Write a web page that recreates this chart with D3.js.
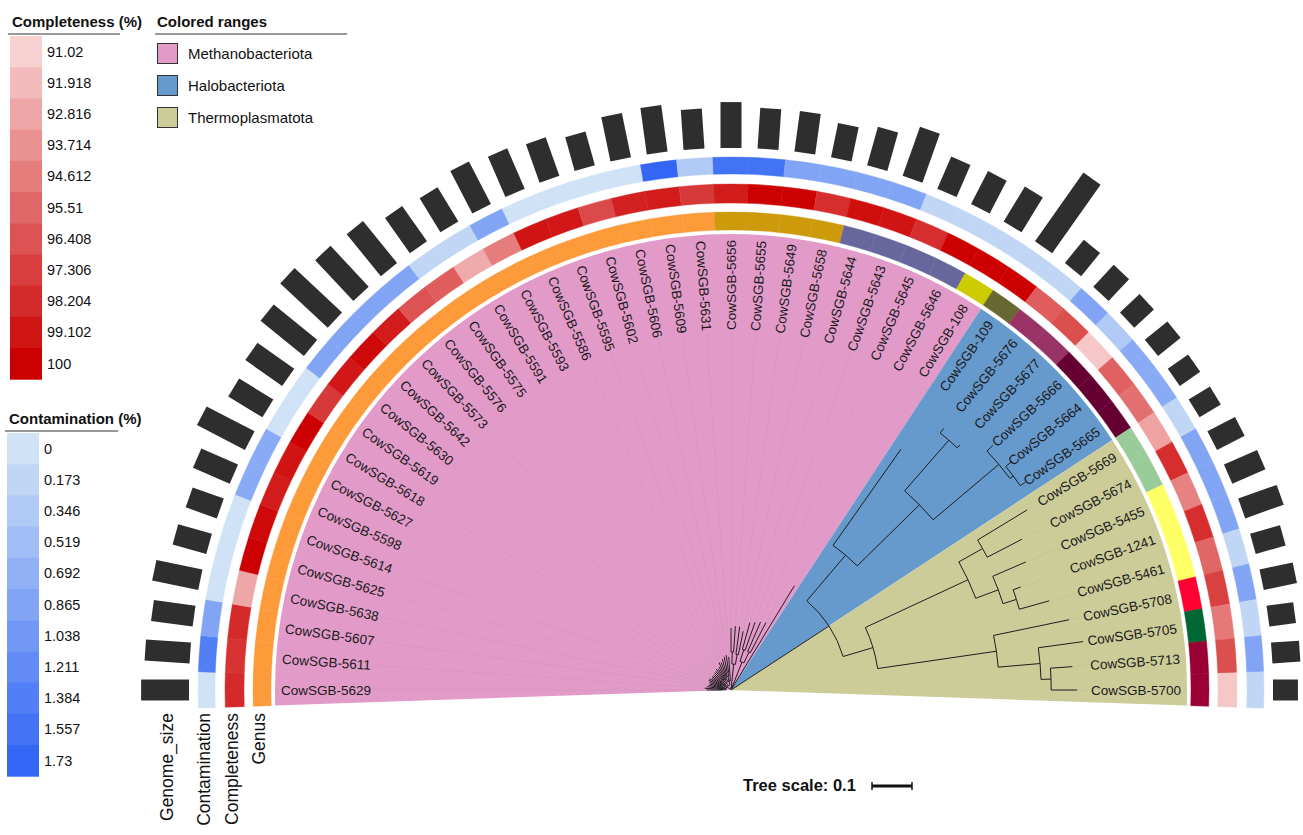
<!DOCTYPE html>
<html>
<head>
<meta charset="utf-8">
<script src="https://cdn.jsdelivr.net/npm/d3@7"></script>
<style>
  body { margin: 0; background: #fff; }
  svg { display: block; }
  text { font-family: "Liberation Sans", Arial, sans-serif; }
</style>
</head>
<body>
<svg id="chart" width="1303" height="835"></svg>
<script>
// ---- leaves, left (180°) to right (0°) ----
const leafNames = [
  "CowSGB-5629","CowSGB-5611","CowSGB-5607","CowSGB-5638","CowSGB-5625","CowSGB-5614",
  "CowSGB-5598","CowSGB-5627","CowSGB-5618","CowSGB-5619","CowSGB-5630","CowSGB-5642",
  "CowSGB-5573","CowSGB-5576","CowSGB-5575","CowSGB-5591","CowSGB-5593","CowSGB-5586",
  "CowSGB-5595","CowSGB-5602","CowSGB-5606","CowSGB-5609","CowSGB-5631","CowSGB-5656",
  "CowSGB-5655","CowSGB-5649","CowSGB-5658","CowSGB-5644","CowSGB-5643","CowSGB-5645",
  "CowSGB-5646","CowSGB-108","CowSGB-109","CowSGB-5676","CowSGB-5677","CowSGB-5666",
  "CowSGB-5664","CowSGB-5665","CowSGB-5669","CowSGB-5674","CowSGB-5455","CowSGB-1241",
  "CowSGB-5461","CowSGB-5708","CowSGB-5705","CowSGB-5713","CowSGB-5700"
];

// genus strip: index into genusColors for each leaf
const genusGroup = [
  0,0,0,0,0,0,0,0,0,0,0,0,0,0,0,0,0,0,0,0,0,0,0,
  1,1,1,1, 2,2,2,2, 3, 4, 5,5, 6,6,6, 7,7, 8,8,8, 9, 10, 11,11
];
const genusColors = ["#fd9b3a","#cc9a0a","#67679d","#cccc00","#676733","#993366",
                     "#660033","#99cc99","#ffff66","#ff0033","#006633","#990033"];

// CheckM completeness (%)
const completeness = [
  98.2, 97.8, 98.2, 92.8, 100, 99.6, 98.8, 99.2, 100, 97.6,
  99.0, 99.6, 98.8, 96.4, 96.0, 92.6, 94.6, 99.2, 99.0, 96.8,
  98.6, 98.8, 97.6, 98.8, 100, 100, 98.0, 99.4, 99.2, 98.0,
  100, 100, 100, 96.0, 96.6, 91.4, 95.8, 95.2, 93.0, 98.0,
  94.4, 98.0, 95.6, 97.2, 94.8, 96.6, 91.4
];

// CheckM contamination (%)
const contamination = [
  0, 1.38, 0.86, 0, 0, 0, 0.78, 0.78, 0, 0,
  0.86, 0.86, 0.86, 0.86, 0.17, 0.17, 0.86, 0, 0, 0,
  0, 1.73, 0.35, 1.55, 1.55, 0.86, 0.86, 0.86, 0.86, 0.17,
  0.17, 0.17, 0.17, 0.17, 0.86, 0.35, 0.78, 0.78, 0.17, 0.86,
  0.86, 0.86, 0.17, 0.86, 0.17, 0.86, 0.17
];

// genome size (Mb)
const genomeSize = [
  1.71, 1.61, 1.50, 1.68, 1.25, 1.18, 1.43, 1.93, 1.43, 1.61,
  2.00, 2.32, 2.00, 1.93, 1.54, 1.43, 1.71, 1.57, 1.46, 1.25,
  1.61, 1.68, 1.43, 1.64, 1.46, 1.46, 1.25, 1.43, 1.86, 1.25,
  1.32, 1.46, 3.00, 1.07, 1.07, 0.96, 1.04, 0.89, 0.89, 1.11,
  1.29, 1.46, 1.11, 1.21, 0.96, 1.00, 0.89
];

// colored ranges (phylum), first and last leaf index of each
const phyla = ["Methanobacteriota", "Halobacteriota", "Thermoplasmatota"];
const phylumColors = ["#e29bc9", "#6699cc", "#cccc99"];
const phylumFirst = [0, 32, 38];
const phylumLast = [31, 37, 46];

// legend ticks
const completenessTicks = [91.02, 91.918, 92.816, 93.714, 94.612, 95.51, 96.408, 97.306, 98.204, 99.102, 100];
const contaminationTicks = [0, 0.173, 0.346, 0.519, 0.692, 0.865, 1.038, 1.211, 1.384, 1.557, 1.73];
const ringTitles = ["Genome_size", "Contamination", "Completeness", "Genus"];

// phylogeny (Newick, substitutions per site)
const methanoNewick =
  "(((CowSGB-5629:0.040,CowSGB-5611:0.045):0.008,(CowSGB-5607:0.042,CowSGB-5638:0.038):0.006," +
  "(CowSGB-5625:0.035,(CowSGB-5614:0.030,CowSGB-5598:0.034):0.006):0.008," +
  "((CowSGB-5627:0.036,CowSGB-5618:0.031):0.007,CowSGB-5619:0.040):0.005," +
  "(CowSGB-5630:0.038,(CowSGB-5642:0.030,CowSGB-5573:0.033):0.008):0.006," +
  "((CowSGB-5576:0.030,CowSGB-5575:0.034):0.010,(CowSGB-5591:0.032,CowSGB-5593:0.036):0.009):0.007," +
  "((CowSGB-5586:0.040,CowSGB-5595:0.038):0.012,(CowSGB-5602:0.045,(CowSGB-5606:0.040,CowSGB-5609:0.043):0.010):0.012,CowSGB-5631:0.060):0.010):0.008," +
  "((CowSGB-5656:0.060,CowSGB-5655:0.065):0.030,(CowSGB-5649:0.070,CowSGB-5658:0.060):0.025):0.060," +
  "((CowSGB-5644:0.070,CowSGB-5643:0.075):0.030,(CowSGB-5645:0.080,CowSGB-5646:0.085):0.030):0.070," +
  "CowSGB-108:0.300):0.005";
const haloNewick =
  "(CowSGB-109:0.295,((CowSGB-5676:0.015,CowSGB-5677:0.010):0.168," +
  "(CowSGB-5666:0.020,(CowSGB-5664:0.018,CowSGB-5665:0.015):0.010):0.215):0.218):0.150";
const thermoNewick =
  "(((CowSGB-5669:0.145,CowSGB-5674:0.098):0.068,(CowSGB-5455:0.090,(CowSGB-1241:0.020,CowSGB-5461:0.078):0.035):0.060):0.283," +
  "(CowSGB-5708:0.193,(CowSGB-5705:0.113,(CowSGB-5713:0.055,CowSGB-5700:0.065):0.025):0.105):0.300):0.078";
const treeNewick = "(" + methanoNewick + ",(" + haloNewick + "," + thermoNewick + "):0.2925);";

// ---- geometry ----
const W = 1303, H = 835, cx = 731, cy = 690;
const rRange = 456, rLabel = 450;
const rGenus = [460, 478], rCompl = [487, 506], rContam = [516, 533], rBar = 542;
const barWidth = 21;

const svg = d3.select("#chart");
svg.append("rect").attr("width", W).attr("height", H).attr("fill", "#fff");

const n = leafNames.length;
const angleOf = d3.scaleLinear().domain([0, n - 1]).range([180, 0]); // degrees, counter-clockwise from east
const half = (180 / (n - 1)) / 2;
const rad = d => d * Math.PI / 180;
const arcGen = d3.arc();
const sector = (r0, r1, a0, a1) =>
  arcGen({innerRadius: r0, outerRadius: r1, startAngle: rad(90 - a0), endAngle: rad(90 - a1)});

const treeScale = d3.scaleLinear().domain([0, 1]).range([0, 400]);
const complColor = d3.scaleLinear().domain([91.02, 100]).range(["#f7d0d0", "#cc0000"]);
const contamColor = d3.scaleLinear().domain([0, 1.73]).range(["#d0e2f5", "#3366f5"]);
const barLen = d3.scaleLinear().domain([0, 3.0]).range([0, 84]);

const gc = svg.append("g").attr("transform", `translate(${cx},${cy})`);

// colored range wedges
phyla.forEach((p, k) => {
  gc.append("path")
    .attr("d", sector(0, rRange, angleOf(phylumFirst[k]) + half, angleOf(phylumLast[k]) - half))
    .attr("fill", phylumColors[k]);
});

// annotation rings
const rings = [
  {r: rGenus, color: i => genusColors[genusGroup[i]]},
  {r: rCompl, color: i => complColor(completeness[i])},
  {r: rContam, color: i => contamColor(contamination[i])}
];
rings.forEach(ring => {
  gc.append("g").selectAll("path").data(d3.range(n)).join("path")
    .attr("d", i => sector(ring.r[0], ring.r[1], angleOf(i) + half, angleOf(i) - half))
    .attr("fill", ring.color)
    .attr("stroke", ring.color)
    .attr("stroke-width", 0.4);
});

// genome size bars
gc.append("g").selectAll("rect").data(d3.range(n)).join("rect")
  .attr("transform", i => `rotate(${-angleOf(i)})`)
  .attr("x", rBar)
  .attr("y", -barWidth / 2)
  .attr("width", i => barLen(genomeSize[i]))
  .attr("height", barWidth)
  .attr("fill", "#2e2e2e");

// ---- tree ----
function parseNewick(s) {
  let i = 0;
  function node() {
    const nd = {name: "", length: 0};
    if (s[i] === "(") {
      nd.children = [];
      i++;
      while (true) {
        nd.children.push(node());
        if (s[i] === ",") { i++; continue; }
        break;
      }
      i++;
    }
    let name = "";
    while (i < s.length && !",():;".includes(s[i])) name += s[i++];
    nd.name = name.trim();
    if (s[i] === ":") {
      i++;
      let num = "";
      while (i < s.length && !",();".includes(s[i])) num += s[i++];
      nd.length = +num;
    }
    return nd;
  }
  return node();
}

const root = d3.hierarchy(parseNewick(treeNewick));
root.eachBefore(d => { d.r = d.parent ? d.parent.r + treeScale(d.data.length) : 0; });
root.eachAfter(d => {
  if (d.children) d.a = (d.children[0].a + d.children[d.children.length - 1].a) / 2;
  else d.a = angleOf(leafNames.indexOf(d.data.name));
});
const px = (r, a) => [r * Math.cos(rad(a)), -r * Math.sin(rad(a))];

const gGuide = gc.append("g");
const gt = gc.append("g").attr("fill", "none").attr("stroke", "#1e1e1e").attr("stroke-width", 1);
root.descendants().forEach(d => {
  if (d.parent) {
    const p0 = px(d.parent.r, d.a), p1 = px(d.r, d.a);
    gt.append("line").attr("x1", p0[0]).attr("y1", p0[1]).attr("x2", p1[0]).attr("y2", p1[1]);
  }
  if (d.children && d.r > 0) {
    const a0 = d.children[0].a, a1 = d.children[d.children.length - 1].a;
    const path = d3.path();
    path.arc(0, 0, d.r, -rad(a0), -rad(a1), false);
    gt.append("path").attr("d", path.toString());
  }
});

// leaf labels, aligned to the outer edge, with faint guides back to the tips
const gl = gc.append("g");
root.leaves().forEach(d => {
  const a = d.a;
  const right = a <= 90.001;
  const t = gl.append("text")
    .attr("transform", right ? `rotate(${-a}) translate(${rLabel},0)` : `rotate(${-a}) translate(${rLabel},0) rotate(180)`)
    .attr("text-anchor", right ? "end" : "start")
    .attr("dominant-baseline", "central")
    .attr("font-size", 13.5)
    .attr("fill", "#1a1a1a")
    .text(d.data.name);
  const len = t.node().getComputedTextLength();
  const p0 = px(d.r + 2, a), p1 = px(rLabel - len - 3, a);
  gGuide.append("line").attr("x1", p0[0]).attr("y1", p0[1]).attr("x2", p1[0]).attr("y2", p1[1])
    .attr("stroke", "#8a8a8a").attr("stroke-opacity", 0.16).attr("stroke-width", 0.8);
});

// ring titles under the left end
const ringMid = [rBar + 19, (rContam[0] + rContam[1]) / 2, (rCompl[0] + rCompl[1]) / 2, (rGenus[0] + rGenus[1]) / 2];
ringTitles.forEach((t, k) => {
  svg.append("text")
    .attr("transform", `translate(${cx - ringMid[k] - 3},713) rotate(-90)`)
    .attr("text-anchor", "end")
    .attr("dominant-baseline", "central")
    .attr("font-size", 17.5)
    .attr("fill", "#111")
    .text(t);
});

// ---- legends ----
function stepLegend(x, y, title, ticks, color, lineEnd) {
  const g = svg.append("g");
  g.append("text").attr("x", x + 4).attr("y", y).attr("font-size", 15).attr("font-weight", "bold")
    .attr("fill", "#111").text(title);
  g.append("line").attr("x1", x).attr("x2", lineEnd).attr("y1", y + 7).attr("y2", y + 7)
    .attr("stroke", "#333").attr("stroke-width", 1);
  const h = 31.2, y0 = y + 9;
  ticks.forEach((v, k) => {
    g.append("rect").attr("x", x + 2).attr("y", y0 + k * h).attr("width", 32).attr("height", h + 0.5)
      .attr("fill", color(v));
    g.append("text").attr("x", x + 39).attr("y", y0 + k * h + h / 2)
      .attr("dominant-baseline", "central").attr("font-size", 14.5).attr("fill", "#111").text(v);
  });
}
stepLegend(8, 27, "Completeness (%)", completenessTicks, complColor, 120);
stepLegend(5, 424, "Contamination (%)", contaminationTicks, contamColor, 118);

// colored ranges legend
const gr = svg.append("g");
gr.append("text").attr("x", 157).attr("y", 27).attr("font-size", 15).attr("font-weight", "bold")
  .attr("fill", "#111").text("Colored ranges");
gr.append("line").attr("x1", 155).attr("x2", 347).attr("y1", 34).attr("y2", 34)
  .attr("stroke", "#333").attr("stroke-width", 1);
phyla.forEach((p, k) => {
  gr.append("rect").attr("x", 157.5).attr("y", 43.5 + k * 32).attr("width", 20).attr("height", 20)
    .attr("fill", phylumColors[k]).attr("stroke", "#333").attr("stroke-width", 1);
  gr.append("text").attr("x", 188).attr("y", 53.5 + k * 32).attr("dominant-baseline", "central")
    .attr("font-size", 15).attr("fill", "#111").text(p);
});

// tree scale
const gs = svg.append("g");
gs.append("text").attr("x", 743).attr("y", 791).attr("font-size", 16.5).attr("font-weight", "bold")
  .attr("fill", "#111").text("Tree scale: 0.1");
const sx0 = 872, sx1 = sx0 + treeScale(0.1);
gs.append("line").attr("x1", sx0).attr("x2", sx1).attr("y1", 786).attr("y2", 786)
  .attr("stroke", "#111").attr("stroke-width", 3);
[sx0, sx1].forEach(x => gs.append("line").attr("x1", x).attr("x2", x).attr("y1", 782).attr("y2", 790)
  .attr("stroke", "#111").attr("stroke-width", 1.5));
</script>
</body>
</html>
